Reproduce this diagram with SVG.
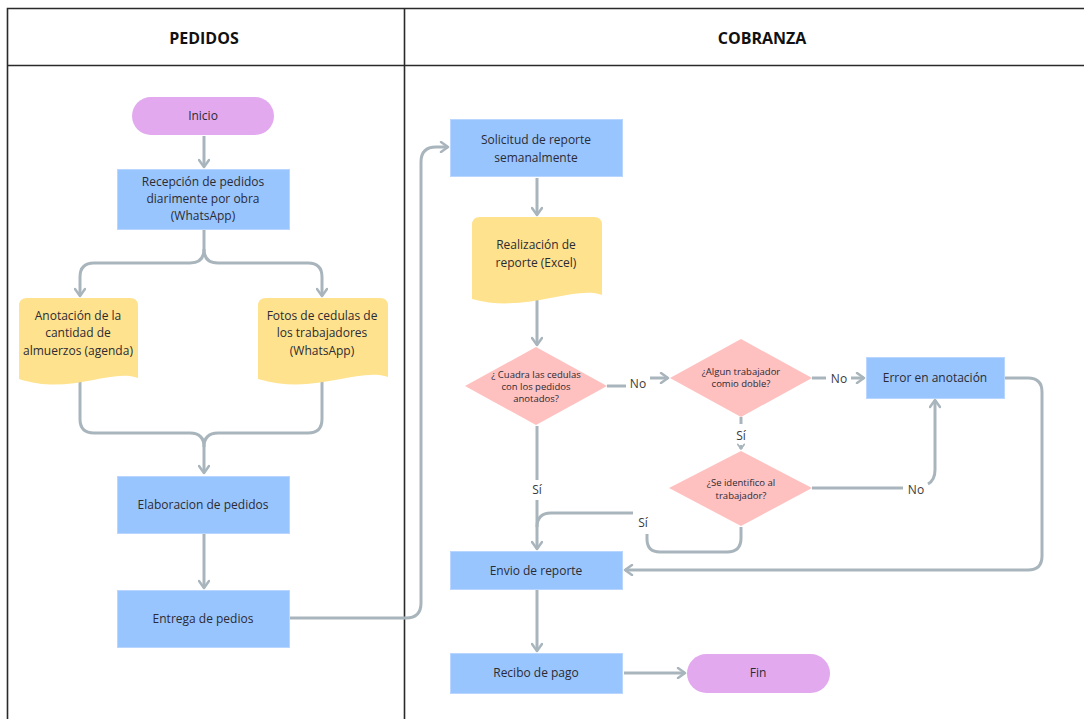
<svg xmlns="http://www.w3.org/2000/svg" width="1084" height="719" viewBox="0 0 1084 719">
  <defs>
    <marker id="arrow" viewBox="0 0 12 12" refX="10" refY="6" markerWidth="12" markerHeight="12" markerUnits="userSpaceOnUse" orient="auto">
      <path d="M3,1 L10,6 L3,11" fill="none" stroke="#a9b5bc" stroke-width="2.5" stroke-linecap="round" stroke-linejoin="round"/>
    </marker>
    <marker id="arrowSmall" viewBox="0 0 12 12" refX="10" refY="6" markerWidth="8" markerHeight="8" markerUnits="userSpaceOnUse" orient="auto">
      <path d="M3,1 L10,6 L3,11" fill="none" stroke="#a9b5bc" stroke-width="2.5" stroke-linecap="round" stroke-linejoin="round"/>
    </marker>
  </defs>
  <style>
    .frame { fill: none; stroke: #2a2a2a; stroke-width: 1.6; }
    .hdr { font-family: "Open Sans", "Liberation Sans", sans-serif; font-size: 16px; font-weight: bold; fill: #111; text-anchor: middle; }
    .proc { fill: #99c5ff; stroke: #b8d6ff; stroke-width: 1; }
    .term { fill: #e2a9ef; }
    .doc { fill: #ffe28e; }
    .dec { fill: #ffc0c0; }
    .t { font-family: "Open Sans", "Liberation Sans", sans-serif; font-size: 12px; fill: #2b2b33; text-anchor: middle; }
    .ts { font-family: "Open Sans", "Liberation Sans", sans-serif; font-size: 9.5px; fill: #2b2b33; text-anchor: middle; }
    .lbl { font-family: "Open Sans", "Liberation Sans", sans-serif; font-size: 12px; fill: #3a3a3a; text-anchor: middle; }
    .c { fill: none; stroke: #a9b5bc; stroke-width: 3; stroke-linejoin: round; }
    .lblbg { fill: #ffffff; }
  </style>

  <rect width="1084" height="719" fill="#ffffff"/>

  <!-- swimlane frame -->
  <g id="lanes">
    <path class="frame" d="M7.5,719 V8.5 H1084 M7.5,65.5 H1084 M404.5,8.5 V719"/>
    <text class="hdr" x="204" y="44">PEDIDOS</text>
    <text class="hdr" x="762" y="44">COBRANZA</text>
  </g>

  <!-- connectors -->
  <g id="connectors">
    <path class="c" d="M204,136 V167" marker-end="url(#arrow)"/>
    <path class="c" d="M204,230 V249 Q204,263 190,263 H94 Q80,263 80,277 V296" marker-end="url(#arrow)"/>
    <path class="c" d="M204,249 Q204,263 218,263 H308 Q322,263 322,277 V296" marker-end="url(#arrow)"/>
    <path class="c" d="M80,380 V419 Q80,433 94,433 H190 Q204,433 204,447 V473" marker-end="url(#arrow)"/>
    <path class="c" d="M322,380 V419 Q322,433 308,433 H218 Q204,433 204,447"/>
    <path class="c" d="M204,534 V588" marker-end="url(#arrow)"/>
    <path class="c" d="M290,618 H406 Q421,618 421,603 V162 Q421,147 436,147 H448" marker-end="url(#arrow)"/>
    <path class="c" d="M537,178 V215" marker-end="url(#arrow)"/>
    <path class="c" d="M537,300 V345" marker-end="url(#arrow)"/>
    <path class="c" d="M607,386 H626"/>
    <path class="c" d="M650,378 H668" marker-end="url(#arrow)"/>
    <path class="c" d="M812,378 H826"/>
    <path class="c" d="M851,378 H864" marker-end="url(#arrow)"/>
    <path class="c" d="M741,417 V424"/>
    <path class="c" d="M741,445 V449" marker-end="url(#arrowSmall)"/>
    <path class="c" d="M812,488 H903"/>
    <path class="c" d="M928,484 Q935,480 935,470 V400" marker-end="url(#arrow)"/>
    <path class="c" d="M537,426 V480"/>
    <path class="c" d="M537,500 V549" marker-end="url(#arrow)"/>
    <path class="c" d="M741,527 V538 Q741,552 727,552 H660 Q647,552 647,539 V534"/>
    <path class="c" d="M633,513 H551 Q537,513 537,527"/>
    <path class="c" d="M1005,378 H1028 Q1042,378 1042,392 V556 Q1042,570 1028,570 H625" marker-end="url(#arrow)"/>
    <path class="c" d="M537,590 V651" marker-end="url(#arrow)"/>
    <path class="c" d="M624,673 H685" marker-end="url(#arrow)"/>

    <text class="lbl" x="638" y="388">No</text>
    <text class="lbl" x="839" y="383">No</text>
    <text class="lbl" x="741" y="440">Sí</text>
    <text class="lbl" x="916" y="494">No</text>
    <text class="lbl" x="537" y="494">Sí</text>
    <text class="lbl" x="643" y="527">Sí</text>
  </g>

  <!-- nodes -->
  <g id="inicio">
    <rect class="term" x="132" y="97" width="142" height="38" rx="19"/>
    <text class="t" x="203" y="120">Inicio</text>
  </g>
  <g id="recepcion">
    <rect class="proc" x="117.5" y="169.5" width="172" height="60"/>
    <text class="t" x="203" y="186">Recepción de pedidos</text>
    <text class="t" x="203" y="203">diarimente por obra</text>
    <text class="t" x="203" y="220">(WhatsApp)</text>
  </g>
  <g id="anotacion">
    <path class="doc" d="M19,306 Q19,298 27,298 H130 Q138,298 138,306 V378 C110,368 70,396 19,379 Z"/>
    <text class="t" x="78" y="320">Anotación de la</text>
    <text class="t" x="78" y="337">cantidad de</text>
    <text class="t" x="78" y="355">almuerzos (agenda)</text>
  </g>
  <g id="fotos">
    <path class="doc" d="M258,306 Q258,298 266,298 H380 Q388,298 388,306 V377 C358,367 314,396 258,379 Z"/>
    <text class="t" x="322" y="320">Fotos de cedulas de</text>
    <text class="t" x="322" y="337">los trabajadores</text>
    <text class="t" x="322" y="355">(WhatsApp)</text>
  </g>
  <g id="elaboracion">
    <rect class="proc" x="117.5" y="476.5" width="172" height="57"/>
    <text class="t" x="203" y="509">Elaboracion de pedidos</text>
  </g>
  <g id="entrega">
    <rect class="proc" x="117.5" y="590.5" width="172" height="57"/>
    <text class="t" x="203" y="623">Entrega de pedios</text>
  </g>
  <g id="solicitud">
    <rect class="proc" x="450.5" y="119.5" width="172" height="57"/>
    <text class="t" x="536" y="144">Solicitud de reporte</text>
    <text class="t" x="536" y="162">semanalmente</text>
  </g>
  <g id="realizacion">
    <path class="doc" d="M472,225 Q472,217 480,217 H594 Q602,217 602,225 V295 C574,285 525,314 472,299 Z"/>
    <text class="t" x="536" y="249">Realización de</text>
    <text class="t" x="536" y="267">reporte (Excel)</text>
  </g>
  <g id="cuadra">
    <polygon class="dec" points="536,347 607,386 536,425 465,386"/>
    <text class="ts" x="536" y="378">¿ Cuadra las cedulas</text>
    <text class="ts" x="536" y="390">con los pedidos</text>
    <text class="ts" x="536" y="402">anotados?</text>
  </g>
  <g id="doble">
    <polygon class="dec" points="741,339 812,378 741,417 670,378"/>
    <text class="ts" x="741" y="375">¿Algun trabajador</text>
    <text class="ts" x="741" y="387">comio doble?</text>
  </g>
  <g id="identifico">
    <polygon class="dec" points="741,451 812,488 741,526 669,488"/>
    <text class="ts" x="741" y="486">¿Se identifico al</text>
    <text class="ts" x="741" y="499">trabajador?</text>
  </g>
  <g id="error">
    <rect class="proc" x="866.5" y="357.5" width="138" height="41"/>
    <text class="t" x="935" y="382">Error en anotación</text>
  </g>
  <g id="envio">
    <rect class="proc" x="450.5" y="551.5" width="172" height="38"/>
    <text class="t" x="536" y="575">Envio de reporte</text>
  </g>
  <g id="recibo">
    <rect class="proc" x="450.5" y="653.5" width="172" height="40"/>
    <text class="t" x="536" y="677">Recibo de pago</text>
  </g>
  <g id="fin">
    <rect class="term" x="687" y="654" width="143" height="39" rx="19.5"/>
    <text class="t" x="758" y="677">Fin</text>
  </g>
</svg>
